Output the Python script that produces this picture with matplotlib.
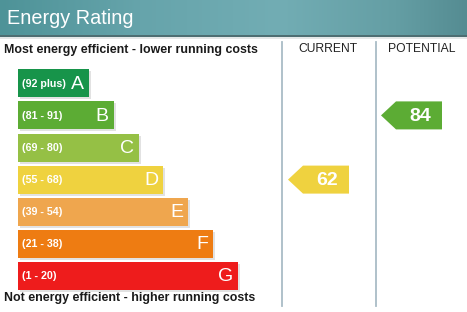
import matplotlib
matplotlib.use("Agg")
import matplotlib.pyplot as plt
import numpy as np
from matplotlib.patches import Polygon, Rectangle

# ---- data ----
bands = ["A", "B", "C", "D", "E", "F", "G"]
ranges = ["(92 plus)", "(81 - 91)", "(69 - 80)", "(55 - 68)", "(39 - 54)", "(21 - 38)", "(1 - 20)"]
band_low = [92, 81, 69, 55, 39, 21, 1]
band_colors = ["#17944a", "#5cac34", "#95c045", "#efd23f", "#efa64e", "#ee7c12", "#ee1c1c"]
current_rating = 62
potential_rating = 84
title = "Energy Rating"
top_text = "Most energy efficient - lower running costs"
bottom_text = "Not energy efficient - higher running costs"
col_labels = ["CURRENT", "POTENTIAL"]

plt.rcParams["font.family"] = ["Liberation Sans", "DejaVu Sans"]

W, H = 467, 312
fig = plt.figure(figsize=(W / 100, H / 100), dpi=100)
ax = fig.add_axes([0, 0, 1, 1])
ax.set_xlim(0, W)
ax.set_ylim(H, 0)
ax.axis("off")

# header gradient
xs = np.linspace(0, 1, 300)
stops_x = [0, 0.3, 0.6, 0.85, 1]
stops_c = np.array([[0x4e, 0x93, 0x98], [0x66, 0xa4, 0xab], [0x72, 0xad, 0xb4],
                    [0x64, 0x9e, 0xa4], [0x55, 0x8c, 0x92]]) / 255
grad = np.stack([np.interp(xs, stops_x, stops_c[:, k]) for k in range(3)], axis=-1)
ax.imshow(grad[None, :, :], extent=[0, W, 35, 0], aspect="auto", zorder=1)
ax.add_patch(Rectangle((0, 35), W, 2, color="#4d6e72", zorder=2, lw=0))
ax.add_patch(Rectangle((0, 37), W, 2, color="#e4e8e8", zorder=2, lw=0))
ax.text(7, 18, title, color="white", fontsize=14.3, va="center", ha="left", zorder=3)

# band geometry
y0, pitch, bh = 83.3, 32.1, 28
left = 18
widths = [71 + 24.8 * i for i in range(len(bands))]
ycent = [y0 + pitch * i for i in range(len(bands))]

# shadows
ax.barh([y + 2 for y in ycent], widths, left=left + 2, height=bh, color="#e2e2e2", zorder=2)
ax.barh(ycent, widths, left=left, height=bh, color=band_colors, zorder=3)
for i, b in enumerate(bands):
    ax.text(left + 4, ycent[i] + 0.5, ranges[i], color="white", fontsize=7.7, fontweight="bold",
            va="center", ha="left", zorder=4)
    ax.text(left + widths[i] - 5, ycent[i] + 1, b, color="white", fontsize=14,
            va="center", ha="right", zorder=4)

ax.text(4, 49.5, top_text, fontsize=8.9, fontweight="bold", color="#1a1a1a", va="center", ha="left")
ax.text(4, 298, bottom_text, fontsize=8.9, fontweight="bold", color="#1a1a1a", va="center", ha="left")

# column dividers and headers
for xl in (282, 376):
    ax.plot([xl, xl], [42, 306], color="#a9bcc6", lw=1.3, zorder=2)
ax.text(328, 49.5, col_labels[0], fontsize=8.7, color="#222222", va="center", ha="center")
ax.text(422, 49.5, col_labels[1], fontsize=8.7, color="#222222", va="center", ha="center")


def band_index(r):
    for i, lo in enumerate(band_low):
        if r >= lo:
            return i
    return len(band_low) - 1


def arrow(x_tip, x_left, x_right, rating):
    i = band_index(rating)
    yc = ycent[i]
    top, bot = yc - bh / 2, yc + bh / 2
    poly = Polygon([(x_tip, yc), (x_left, top), (x_right, top), (x_right, bot), (x_left, bot)],
                   closed=True, color=band_colors[i], lw=0, zorder=3)
    ax.add_patch(poly)
    ax.text((x_left + x_right) / 2 + 1, yc + 1, str(rating), color="white", fontsize=14,
            fontweight="bold", va="center", ha="center", zorder=4)


arrow(288, 303, 349, current_rating)
arrow(381, 396, 442, potential_rating)

fig.savefig("out.png", dpi=100)
